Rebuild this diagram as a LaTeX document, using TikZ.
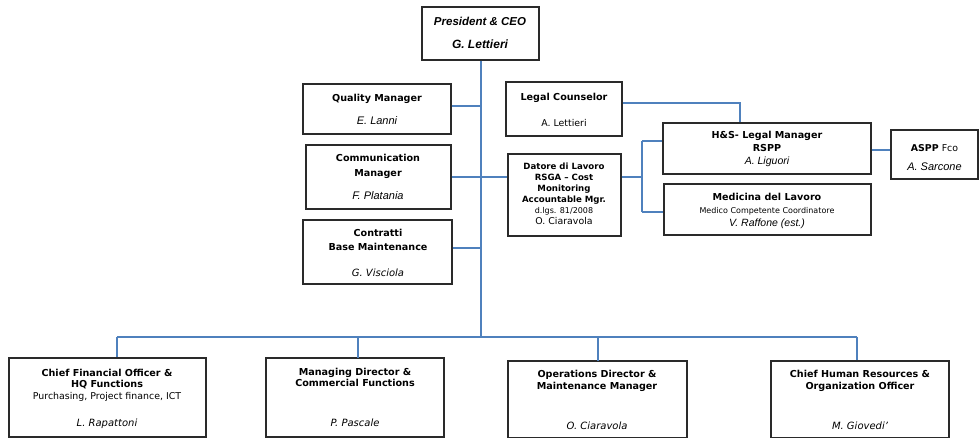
\documentclass[tikz,border=0pt]{standalone}
\usepackage{fontspec}
\setmainfont{DejaVu Sans}
\newfontfamily\arialf{Liberation Sans}
\definecolor{linec}{HTML}{4F81BD}
\definecolor{boxc}{HTML}{2A2A2A}
\begin{document}
\begin{tikzpicture}[x=1pt,y=-1pt,
 box/.style={draw=boxc,line width=1.1pt,inner sep=0pt,rectangle},
 conn/.style={draw=linec,line width=1.2pt},
 txt/.style={inner sep=0pt,text height=0.72em,text depth=0pt,anchor=center},
 hd/.style={txt,font=\fontsize{9.6}{11}\selectfont\bfseries},
 hds/.style={txt,font=\fontsize{8.6}{10}\selectfont\bfseries},
 nm/.style={txt,font=\arialf\fontsize{11}{12}\selectfont\itshape},
 rg/.style={txt,font=\fontsize{9.4}{11}\selectfont},
 rgs/.style={txt,font=\fontsize{8}{10}\selectfont},
 bn/.style={txt,font=\fontsize{10}{11}\selectfont\itshape},
 pr/.style={txt,font=\arialf\fontsize{11.5}{13}\selectfont\bfseries\itshape}]
\useasboundingbox (0,0) rectangle (980,438);
% boxes
\node[box,minimum width=117pt,minimum height=53pt] (pres) at (480.5,33.5) {};
\node[box,minimum width=148pt,minimum height=50pt] (qm) at (377,109) {};
\node[box,minimum width=145pt,minimum height=64pt] (comm) at (378.5,177) {};
\node[box,minimum width=149pt,minimum height=64pt] (contr) at (377.5,252) {};
\node[box,minimum width=116pt,minimum height=54pt] (legal) at (564,109) {};
\node[box,minimum width=113pt,minimum height=82pt] (datore) at (564.5,195) {};
\node[box,minimum width=208pt,minimum height=51pt] (hs) at (767,148.5) {};
\node[box,minimum width=207pt,minimum height=51pt] (med) at (767.5,209.5) {};
\node[box,minimum width=87pt,minimum height=49pt] (aspp) at (934.5,154.5) {};
\node[box,minimum width=197pt,minimum height=79pt] (cfo) at (107.5,397.5) {};
\node[box,minimum width=178pt,minimum height=79pt] (md) at (355,397.5) {};
\node[box,minimum width=179pt,minimum height=77pt] (ops) at (597.5,399.5) {};
\node[box,minimum width=178pt,minimum height=77pt] (chro) at (860,399.5) {};
% texts
\node[pr] (t1) at (480,22) {President \& CEO};
\node[pr,font=\arialf\fontsize{12}{14}\selectfont\bfseries\itshape] (t2) at (480,45) {G. Lettieri};
\node[hd] (q1) at (377,98) {Quality Manager};
\node[nm] (q2) at (377,121) {E. Lanni};
\node[hd] (c1) at (378,158) {Communication};
\node[hd] (c2) at (378,173) {Manager};
\node[nm] (c3) at (378,196) {F. Platania};
\node[hd] (k1) at (378,233) {Contratti};
\node[hd] (k2) at (378,247) {Base Maintenance};
\node[bn] (k3) at (378,273) {G. Visciola};
\node[hd] (l1) at (564,97) {Legal Counselor};
\node[rg] (l2) at (564,123) {A. Lettieri};
\node[hds] (d1) at (564,166) {Datore di Lavoro};
\node[hds] (d2) at (564,177) {RSGA – Cost};
\node[hds] (d3) at (564,188) {Monitoring};
\node[hds] (d4) at (564,199) {Accountable Mgr.};
\node[txt,font=\fontsize{8}{9}\selectfont] (d5) at (564,210) {d.lgs. 81/2008};
\node[rg] (d6) at (564,221) {O. Ciaravola};
\node[hd] (h1) at (767,135) {H\&S- Legal Manager};
\node[hd] (h2) at (767,148) {RSPP};
\node[nm,font=\arialf\fontsize{10.5}{11}\selectfont\itshape] (h3) at (767,161) {A. Liguori};
\node[hd] (m1) at (767,197) {Medicina del Lavoro};
\node[rgs] (m2) at (767,210) {Medico Competente Coordinatore};
\node[nm,font=\arialf\fontsize{10.5}{12}\selectfont\itshape] (m3) at (767,223) {V. Raffone (est.)};
\node[rg] (a1) at (934.5,148) {\textbf{ASPP} Fco};
\node[nm] (a2) at (934.5,167) {A. Sarcone};
\node[hd] (f1) at (107,373) {Chief Financial Officer \&};
\node[hd] (f2) at (107,384) {HQ Functions};
\node[rg] (f3) at (107,396) {Purchasing, Project finance, ICT};
\node[bn] (f4) at (107,423) {L. Rapattoni};
\node[hd] (g1) at (355,372) {Managing Director \&};
\node[hd] (g2) at (355,383) {Commercial Functions};
\node[bn] (g3) at (355,423) {P. Pascale};
\node[hd] (o1) at (597,374) {Operations Director \&};
\node[hd] (o2) at (597,386) {Maintenance Manager};
\node[bn] (o3) at (597,426) {O. Ciaravola};
\node[hd] (r1) at (860,374) {Chief Human Resources \&};
\node[hd] (r2) at (860,386) {Organization Officer};
\node[bn] (r3) at (860,426) {M. Giovedi'};
% connectors
\coordinate (bus) at (481,337);
\coordinate (busL) at (117,337);
\coordinate (busR) at (857,337);
\coordinate (br) at (642,177);
\coordinate (lc) at (740,103);
\draw[conn] (pres.south -| bus) -- (bus);
\draw[conn] (busL) -- (busR);
\draw[conn] (busL) -- (busL |- cfo.north);
\draw[conn] (358,337) -- (358,358) coordinate (mdtop);
\draw[conn] (598,337) -- (598,361) coordinate (opstop);
\draw[conn] (busR) -- (busR |- chro.north);
\draw[conn] ([yshift=3pt]qm.east) -- ([yshift=3pt]qm.east -| bus);
\draw[conn] (comm.east) -- (comm.east -| datore.west);
\draw[conn] ([yshift=4pt]contr.east) -- ([yshift=4pt]contr.east -| bus);
\draw[conn] ([yshift=6pt]legal.east) -- (lc) -- (lc |- hs.north);
\draw[conn] (br -| datore.east) -- (br);
\draw[conn] (br |- 0,141) -- (br |- 0,212);
\draw[conn] (br |- 0,141) -- ([yshift=7.5pt]hs.west);
\draw[conn] (br |- 0,212) -- ([yshift=-2.5pt]med.west);
\draw[conn] ([yshift=-1.5pt]hs.east) -- ([yshift=-1.5pt]hs.east -| aspp.west);
\end{tikzpicture}
\end{document}
